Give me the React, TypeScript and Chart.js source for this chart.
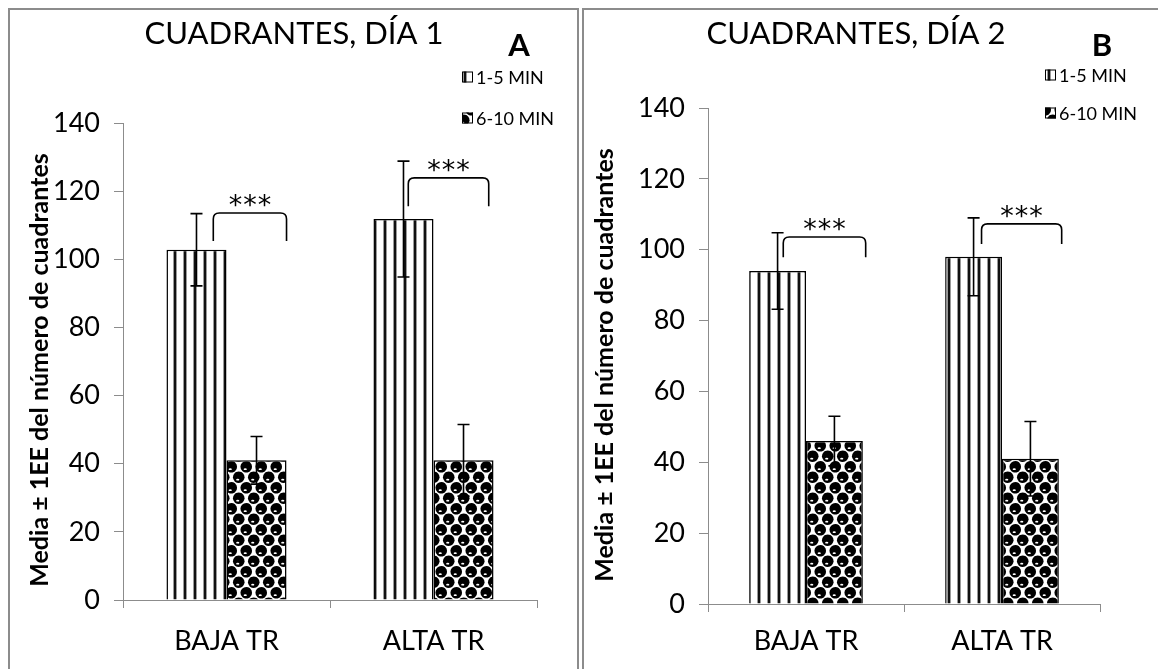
import React, { useEffect, useRef } from "react";
import { Chart, registerables } from "chart.js";

Chart.register(...registerables);

// ---------- data ----------
const categories = ["BAJA TR", "ALTA TR"];
const seriesLabels = ["1-5 MIN", "6-10 MIN"];
const yTickValues = [0, 20, 40, 60, 80, 100, 120, 140];

const day1Title = "CUADRANTES, DÍA 1";
const day1Letter = "A";
const day1Means15 = [102.8, 111.8];
const day1Err15 = [10.6, 17.0];
const day1Means610 = [41.0, 41.0];
const day1Err610 = [7.0, 10.5];
const day1BracketTop = [113.6, 123.9];
const day1BracketBottom = [105.4, 115.6];

const day2Title = "CUADRANTES, DÍA 2";
const day2Letter = "B";
const day2Means15 = [94.0, 98.0];
const day2Err15 = [10.8, 11.0];
const day2Means610 = [46.0, 41.0];
const day2Err610 = [7.0, 10.5];
const day2BracketTop = [103.6, 107.3];
const day2BracketBottom = [97.9, 101.6];

const sigLabel = "***";
const yAxisTitle = "Media ± 1EE del número de cuadrantes";

// ---------- patterns ----------
function makeStripe(): CanvasPattern {
  const c = document.createElement("canvas");
  c.width = 10;
  c.height = 10;
  const g = c.getContext("2d")!;
  g.fillStyle = "#fff";
  g.fillRect(0, 0, 10, 10);
  g.fillStyle = "#9a9a9a";
  g.fillRect(3, 0, 1, 10);
  g.fillRect(6, 0, 1, 10);
  g.fillStyle = "#111";
  g.fillRect(4, 0, 2, 10);
  return g.createPattern(c, "repeat")!;
}

function makeSphere(): CanvasPattern {
  const W = 15;
  const H = 21;
  const c = document.createElement("canvas");
  c.width = W;
  c.height = H;
  const g = c.getContext("2d")!;
  g.fillStyle = "#fff";
  g.fillRect(0, 0, W, H);
  const centers = [
    [3.75, 5.25],
    [11.25, 15.75],
  ];
  for (const [cx, cy] of centers) {
    for (const dx of [-W, 0, W]) {
      for (const dy of [-H, 0, H]) {
        g.fillStyle = "#000";
        g.beginPath();
        g.arc(cx + dx, cy + dy, 5.8, 0, Math.PI * 2);
        g.fill();
      }
    }
  }
  for (const [cx, cy] of centers) {
    for (const dx of [-W, 0, W]) {
      for (const dy of [-H, 0, H]) {
        g.fillStyle = "#fff";
        g.beginPath();
        g.ellipse(cx + dx - 1, cy + dy + 2.4, 1.6, 0.9, 0, 0, Math.PI * 2);
        g.fill();
      }
    }
  }
  return g.createPattern(c, "repeat")!;
}

// ---------- decoration plugin ----------
const decor = {
  id: "decor",
  afterDatasetsDraw(chart: any, _args: any, o: any) {
    const ctx: CanvasRenderingContext2D = chart.ctx;
    const y = chart.scales.y;
    const means = [o.means1, o.means2];
    const errs = [o.err1, o.err2];
    ctx.save();
    ctx.strokeStyle = "#000";
    ctx.lineWidth = 1.6;
    for (let di = 0; di < 2; di++) {
      const meta = chart.getDatasetMeta(di);
      meta.data.forEach((bar: any, i: number) => {
        const m = means[di][i];
        const e = errs[di][i];
        const yt = y.getPixelForValue(m + e);
        const yb = y.getPixelForValue(m - e);
        ctx.beginPath();
        ctx.moveTo(bar.x, yt);
        ctx.lineTo(bar.x, yb);
        ctx.moveTo(bar.x - 6, yt);
        ctx.lineTo(bar.x + 6, yt);
        ctx.moveTo(bar.x - 6, yb);
        ctx.lineTo(bar.x + 6, yb);
        ctx.stroke();
      });
    }
    // brackets
    const m0 = chart.getDatasetMeta(0);
    const m1 = chart.getDatasetMeta(1);
    for (let i = 0; i < o.bTop.length; i++) {
      const b0 = m0.data[i];
      const b1 = m1.data[i];
      const x1 = b0.x + o.bFrom[i] * b0.width;
      const x2 = b1.x + o.bTo[i] * b1.width;
      const yt = y.getPixelForValue(o.bTop[i]);
      const yb = y.getPixelForValue(o.bBottom[i]);
      const r = 6;
      ctx.lineWidth = 1.6;
      ctx.beginPath();
      ctx.moveTo(x1, yb);
      ctx.lineTo(x1, yt + r);
      ctx.quadraticCurveTo(x1, yt, x1 + r, yt);
      ctx.lineTo(x2 - r, yt);
      ctx.quadraticCurveTo(x2, yt, x2, yt + r);
      ctx.lineTo(x2, yb);
      ctx.stroke();
      const cx = (x1 + x2) / 2;
      const cy = yt - 14;
      ctx.fillStyle = "#000";
      ctx.font = '27px "DejaVu Sans"';
      ctx.textAlign = "center";
      ctx.textBaseline = "alphabetic";
      const chars = sigLabel.split("");
      chars.forEach((ch, k) => {
        ctx.fillText(ch, cx + (k - (chars.length - 1) / 2) * 14.5, cy + 15);
      });
    }
    ctx.restore();
  },
  afterDraw(chart: any, _args: any, o: any) {
    const ctx: CanvasRenderingContext2D = chart.ctx;
    ctx.save();
    ctx.fillStyle = "#000";
    // title
    ctx.font = '31px "Lato"';
    ctx.textAlign = "center";
    ctx.textBaseline = "middle";
    ctx.fillText(o.title, o.titlePos[0], o.titlePos[1]);
    // letter
    ctx.font = 'bold 31px "Lato"';
    ctx.fillText(o.letter, o.letterPos[0], o.letterPos[1]);
    // legend
    const pats = [o.pat1, o.pat2];
    for (let k = 0; k < 2; k++) {
      const ly = o.legendY[k];
      ctx.fillStyle = pats[k];
      ctx.fillRect(o.legendX, ly - 5.5, 11, 11);
      ctx.strokeStyle = "#000";
      ctx.lineWidth = 1;
      ctx.strokeRect(o.legendX + 0.5, ly - 5, 10, 10);
      ctx.fillStyle = "#000";
      ctx.font = '18px "Lato"';
      ctx.textAlign = "left";
      ctx.textBaseline = "middle";
      ctx.fillText(seriesLabels[k], o.legendX + 14, ly + 1);
    }
    // y axis title
    ctx.translate(o.yTitlePos[0], o.yTitlePos[1]);
    ctx.rotate(-Math.PI / 2);
    ctx.font = 'bold 25px "Lato"';
    ctx.textAlign = "center";
    ctx.textBaseline = "middle";
    ctx.fillText(yAxisTitle, 0, 0);
    ctx.restore();
  },
};

type PanelCfg = {
  title: string;
  letter: string;
  means1: number[];
  err1: number[];
  means2: number[];
  err2: number[];
  bTop: number[];
  bBottom: number[];
  bFrom: number[];
  bTo: number[];
  w: number;
  h: number;
  area: { l: number; r: number; t: number; b: number };
  titlePos: [number, number];
  letterPos: [number, number];
  legendX: number;
  legendY: [number, number];
  yTitlePos: [number, number];
  xLabelPad: number;
};

function ChartPanel({ cfg }: { cfg: PanelCfg }) {
  const ref = useRef<HTMLCanvasElement>(null);
  useEffect(() => {
    const canvas = ref.current!;
    const stripe = makeStripe();
    const sphere = makeSphere();
    const chart = new Chart(canvas, {
      type: "bar",
      data: {
        labels: categories,
        datasets: [
          {
            label: seriesLabels[0],
            data: cfg.means1,
            backgroundColor: stripe as any,
            borderColor: "#000",
            borderWidth: 1.5,
            categoryPercentage: 0.58,
            barPercentage: 1,
          },
          {
            label: seriesLabels[1],
            data: cfg.means2,
            backgroundColor: sphere as any,
            borderColor: "#000",
            borderWidth: 1.5,
            categoryPercentage: 0.58,
            barPercentage: 1,
          },
        ],
      },
      options: {
        responsive: false,
        animation: false,
        devicePixelRatio: 1,
        layout: {
          padding: { left: 0, top: cfg.area.t, right: cfg.w - cfg.area.r, bottom: 0 },
        },
        plugins: {
          legend: { display: false },
          tooltip: { enabled: false },
          title: { display: false },
          decor: {
            title: cfg.title,
            letter: cfg.letter,
            means1: cfg.means1,
            err1: cfg.err1,
            means2: cfg.means2,
            err2: cfg.err2,
            bTop: cfg.bTop,
            bBottom: cfg.bBottom,
            bFrom: cfg.bFrom,
            bTo: cfg.bTo,
            titlePos: cfg.titlePos,
            letterPos: cfg.letterPos,
            legendX: cfg.legendX,
            legendY: cfg.legendY,
            yTitlePos: cfg.yTitlePos,
            pat1: stripe,
            pat2: sphere,
          },
        } as any,
        scales: {
          x: {
            grid: {
              display: true,
              offset: true,
              drawOnChartArea: false,
              drawTicks: true,
              tickLength: 8,
              color: "#8c8c8c",
            },
            border: { display: true, color: "#8c8c8c", width: 1 },
            ticks: {
              color: "#000",
              font: { family: "Lato", size: 27 },
              padding: cfg.xLabelPad,
              autoSkip: false,
              maxRotation: 0,
            },
            afterFit: (s: any) => {
              s.height = cfg.h - cfg.area.b;
            },
          },
          y: {
            min: yTickValues[0],
            max: yTickValues[yTickValues.length - 1],
            afterBuildTicks: (s: any) => {
              s.ticks = yTickValues.map((v) => ({ value: v }));
            },
            ticks: {
              color: "#000",
              font: { family: "Lato", size: 27 },
              padding: 14,
            },
            grid: {
              display: true,
              drawOnChartArea: false,
              drawTicks: true,
              tickLength: 9,
              color: "#8c8c8c",
            },
            border: { display: true, color: "#8c8c8c", width: 1 },
            afterFit: (s: any) => {
              s.width = cfg.area.l;
            },
          },
        },
      } as any,
      plugins: [decor as any],
    });
    return () => chart.destroy();
  }, [cfg]);
  return (
    <canvas
      ref={ref}
      width={cfg.w}
      height={cfg.h}
      style={{ display: "block", width: cfg.w, height: cfg.h }}
    />
  );
}

const day1Cfg: PanelCfg = {
  title: day1Title,
  letter: day1Letter,
  means1: day1Means15,
  err1: day1Err15,
  means2: day1Means610,
  err2: day1Err610,
  bTop: day1BracketTop,
  bBottom: day1BracketBottom,
  bFrom: [0.28, 0.08],
  bTo: [0.5, 0.42],
  w: 567,
  h: 659,
  area: { l: 113, r: 527, t: 113, b: 590 },
  titlePos: [284, 24],
  letterPos: [509, 36],
  legendX: 452,
  legendY: [67, 108],
  yTitlePos: [30, 360],
  xLabelPad: 17,
};

const day2Cfg: PanelCfg = {
  title: day2Title,
  letter: day2Letter,
  means1: day2Means15,
  err1: day2Err15,
  means2: day2Means610,
  err2: day2Err610,
  bTop: day2BracketTop,
  bBottom: day2BracketBottom,
  bFrom: [0.1, 0.14],
  bTo: [0.55, 0.55],
  w: 580,
  h: 659,
  area: { l: 124, r: 516, t: 98, b: 594 },
  titlePos: [272, 24],
  letterPos: [518, 36],
  legendX: 461,
  legendY: [65, 103],
  yTitlePos: [21, 355],
  xLabelPad: 13,
};

export default function App() {
  return (
    <div style={{ position: "relative", width: 1158, height: 661 }}>
      <style>{`html,body{overflow:hidden}`}</style>
      <div
        style={{
          position: "absolute",
          left: 0,
          top: 0,
          width: 571,
          height: 700,
          border: "2px solid #8c8c8c",
          boxSizing: "border-box",
        }}
      >
        <ChartPanel cfg={day1Cfg} />
      </div>
      <div
        style={{
          position: "absolute",
          left: 574,
          top: 0,
          width: 600,
          height: 700,
          borderTop: "2px solid #8c8c8c",
          borderLeft: "2px solid #8c8c8c",
          boxSizing: "border-box",
        }}
      >
        <ChartPanel cfg={day2Cfg} />
      </div>
    </div>
  );
}
